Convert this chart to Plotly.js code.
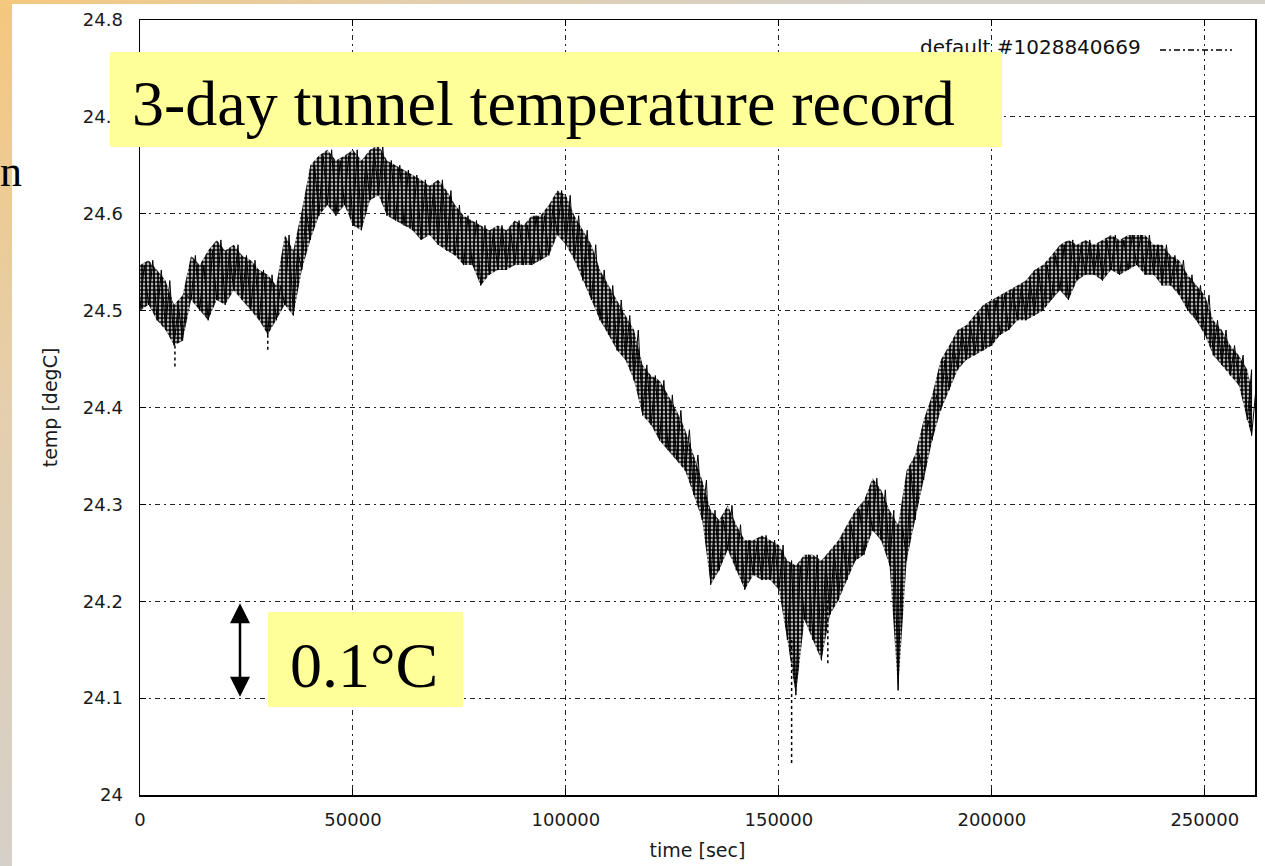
<!DOCTYPE html>
<html>
<head>
<meta charset="utf-8">
<script src="https://cdn.plot.ly/plotly-3.0.1.min.js"></script>
<style>
  html, body { margin:0; padding:0; width:1265px; height:866px; overflow:hidden;
    background: radial-gradient(circle at 0 0, #F5C77E 0px, #E4CFAE 420px, #D4D0CA 900px, #D4D0CA 2000px); }
  #chart { position:absolute; left:12px; top:4px; width:1253px; height:862px; background:#fff; }
  #stray { position:absolute; left:0px; top:150px; font-family:"Liberation Serif","Times New Roman",serif; font-size:44px; color:#000; line-height:1; }
</style>
</head>
<body>
<div id="chart"></div>
<div id="stray">n</div>
<script>
// time [sec]
const timeSec = [0,2000,4000,6000,8000,10000,12000,14000,16000,18000,
  20000,22000,24000,26000,28000,30000,32000,34000,36000,38000,
  40000,42000,44000,46000,48000,50000,52000,54000,56000,58000,
  60000,62000,64000,66000,68000,70000,72000,74000,76000,78000,
  80000,82000,84000,86000,88000,90000,92000,94000,96000,98000,
  100000,102000,104000,106000,108000,110000,112000,114000,116000,118000,
  120000,122000,124000,126000,128000,130000,132000,134000,136000,138000,
  140000,142000,144000,146000,148000,150000,152000,154000,156000,158000,
  160000,162000,164000,166000,168000,170000,172000,174000,176000,178000,
  180000,182000,184000,186000,188000,190000,192000,194000,196000,198000,
  200000,202000,204000,206000,208000,210000,212000,214000,216000,218000,
  220000,222000,224000,226000,228000,230000,232000,234000,236000,238000,
  240000,242000,244000,246000,248000,250000,252000,254000,256000,258000,
  260000,261000];
// upper edge of the noisy temperature band [degC]
const tempHigh = [24.547,24.552,24.542,24.531,24.506,24.516,24.557,24.547,24.562,24.573,
  24.562,24.568,24.557,24.552,24.542,24.537,24.526,24.578,24.562,24.604,
  24.650,24.660,24.666,24.655,24.660,24.666,24.655,24.666,24.671,24.655,
  24.650,24.645,24.640,24.635,24.629,24.635,24.624,24.609,24.598,24.593,
  24.588,24.583,24.588,24.583,24.593,24.588,24.598,24.598,24.609,24.624,
  24.619,24.598,24.583,24.568,24.542,24.526,24.511,24.495,24.480,24.444,
  24.433,24.428,24.413,24.397,24.377,24.351,24.325,24.294,24.284,24.299,
  24.279,24.263,24.263,24.268,24.263,24.258,24.242,24.237,24.248,24.248,
  24.242,24.253,24.263,24.279,24.294,24.304,24.327,24.315,24.294,24.279,
  24.335,24.351,24.387,24.413,24.449,24.464,24.480,24.485,24.495,24.506,
  24.511,24.516,24.521,24.526,24.531,24.542,24.547,24.557,24.568,24.573,
  24.568,24.573,24.568,24.573,24.578,24.573,24.578,24.578,24.578,24.568,
  24.568,24.557,24.552,24.537,24.526,24.516,24.490,24.480,24.464,24.454,
  24.439,24.418];
// lower edge of the noisy temperature band [degC]
const tempLow = [24.500,24.506,24.490,24.480,24.464,24.469,24.511,24.500,24.490,24.511,
  24.506,24.521,24.511,24.500,24.490,24.475,24.490,24.506,24.495,24.542,
  24.573,24.598,24.609,24.598,24.609,24.588,24.583,24.614,24.619,24.598,
  24.593,24.588,24.583,24.573,24.578,24.568,24.562,24.557,24.547,24.547,
  24.526,24.537,24.542,24.542,24.547,24.547,24.547,24.552,24.557,24.578,
  24.568,24.552,24.531,24.511,24.490,24.475,24.459,24.449,24.428,24.392,
  24.382,24.366,24.356,24.346,24.335,24.310,24.284,24.217,24.232,24.253,
  24.232,24.212,24.227,24.222,24.222,24.212,24.160,24.103,24.181,24.160,
  24.139,24.186,24.201,24.222,24.242,24.248,24.273,24.263,24.237,24.108,
  24.242,24.284,24.325,24.366,24.397,24.418,24.439,24.449,24.454,24.459,
  24.464,24.475,24.480,24.490,24.490,24.495,24.500,24.511,24.521,24.511,
  24.531,24.537,24.537,24.531,24.542,24.537,24.542,24.547,24.537,24.537,
  24.526,24.526,24.516,24.500,24.490,24.475,24.454,24.444,24.433,24.423,
  24.387,24.371];
// isolated downward spikes
const spikeTime = [8200, 30000, 153000, 161500];
const spikeTop = [24.464, 24.475, 24.160, 24.201];
const spikeBottom = [24.441, 24.459, 24.031, 24.134];

const xTickVals = [0, 50000, 100000, 150000, 200000, 250000];
const yTickVals = [24.0, 24.1, 24.2, 24.3, 24.4, 24.5, 24.6, 24.7, 24.8];
const legendLabel = 'default #1028840669';
const titleText = '3-day tunnel temperature record';
const scaleText = '0.1°C';

// zig-zag between band edges
const bandX = [], bandY = [];
for (let i = 0; i < timeSec.length; i++) {
  bandX.push(timeSec[i]); bandY.push(tempLow[i]);
  bandX.push(timeSec[i] + 1000); bandY.push(tempHigh[i]);
}
const spX = [], spY = [];
for (let i = 0; i < spikeTime.length; i++) {
  spX.push(spikeTime[i], spikeTime[i], null);
  spY.push(spikeTop[i], spikeBottom[i], null);
}

const traces = [
  {x: timeSec, y: tempLow, type: 'scatter', mode: 'lines', line: {color: 'rgba(0,0,0,0)', width: 0}, showlegend: false, hoverinfo: 'skip'},
  {x: timeSec, y: tempHigh, type: 'scatter', mode: 'lines', line: {color: 'rgba(0,0,0,0)', width: 0}, fill: 'tonexty',
   fillcolor: '#555', fillpattern: {shape: '.', fgcolor: '#000', bgcolor: '#fff', size: 4, solidity: 0.7},
   showlegend: false, hoverinfo: 'skip'},
  {x: bandX, y: bandY, type: 'scatter', mode: 'lines', line: {color: '#000', width: 1}, showlegend: false, hoverinfo: 'skip'},
  {x: spX, y: spY, type: 'scatter', mode: 'lines', line: {color: '#000', width: 1.5, dash: 'dot'}, showlegend: false, hoverinfo: 'skip'}
];

const tickFont = {family: 'DejaVu Sans', size: 18, color: '#1a1a1a'};
const gridStyle = {gridcolor: '#222', gridwidth: 1, griddash: '5px,4px,2px,4px'};

const layout = {
  width: 1253, height: 862,
  margin: {l: 128, r: 10, t: 16, b: 71},
  paper_bgcolor: '#fff', plot_bgcolor: '#fff',
  showlegend: false,
  xaxis: Object.assign({
    range: [0, 261800], tickvals: xTickVals, tickformat: 'd',
    showline: true, mirror: 'ticks', linecolor: '#000', linewidth: 1.5,
    ticks: 'inside', ticklen: 6, tickcolor: '#000',
    zeroline: false, tickfont: tickFont, ticklabelstandoff: 8,
    title: {text: 'time [sec]', font: {family: 'DejaVu Sans', size: 19, color: '#1a1a1a'}, standoff: 14}
  }, gridStyle),
  yaxis: Object.assign({
    range: [24.0, 24.8], tickvals: yTickVals,
    showline: true, mirror: 'ticks', linecolor: '#000', linewidth: 1.5,
    ticks: 'inside', ticklen: 6, tickcolor: '#000',
    zeroline: false, tickfont: tickFont, ticklabelstandoff: 12,
    title: {text: 'temp [degC]', font: {family: 'DejaVu Sans', size: 19, color: '#1a1a1a'}, standoff: 20}
  }, gridStyle),
  shapes: [
    {type: 'line', xref: 'paper', yref: 'paper', x0: 0.9148, x1: 0.9794, y0: 0.9613, y1: 0.9613,
     line: {color: '#000', width: 1.5, dash: '6px,3px,2px,3px'}}
  ],
  annotations: [
    {xref: 'paper', yref: 'paper', x: 0.8996, y: 0.9652, xanchor: 'right', yanchor: 'middle',
     text: legendLabel, showarrow: false, font: {family: 'DejaVu Sans', size: 20, color: '#111'}},
    {xref: 'paper', yref: 'paper', x: 0.3731, y: 0.8974, xanchor: 'center', yanchor: 'middle',
     text: ' ', showarrow: false, width: 892, height: 95, bgcolor: '#FFFF99', borderwidth: 0, borderpad: 0},
    {xref: 'paper', yref: 'paper', x: -0.0090, y: 0.8929, xanchor: 'left', yanchor: 'middle',
     text: titleText, showarrow: false, font: {family: 'Liberation Serif', size: 64, color: '#000'}},
    {xref: 'paper', yref: 'paper', x: 0.2022, y: 0.1748, xanchor: 'center', yanchor: 'middle',
     text: ' ', showarrow: false, width: 195, height: 95, bgcolor: '#FFFF99', borderwidth: 0, borderpad: 0},
    {xref: 'paper', yref: 'paper', x: 0.1327, y: 0.1677, xanchor: 'left', yanchor: 'middle',
     text: scaleText, showarrow: false, font: {family: 'Liberation Serif', size: 64, color: '#000'}},
    {x: 23480, y: 24.198, ax: 23480, ay: 24.100, xref: 'x', yref: 'y', axref: 'x', ayref: 'y',
     text: '', showarrow: true, arrowside: 'end+start', arrowhead: 2, arrowsize: 1.6, arrowwidth: 2.5, arrowcolor: '#000'}
  ]
};

Plotly.newPlot('chart', traces, layout, {displayModeBar: false, staticPlot: true});
</script>
</body>
</html>
